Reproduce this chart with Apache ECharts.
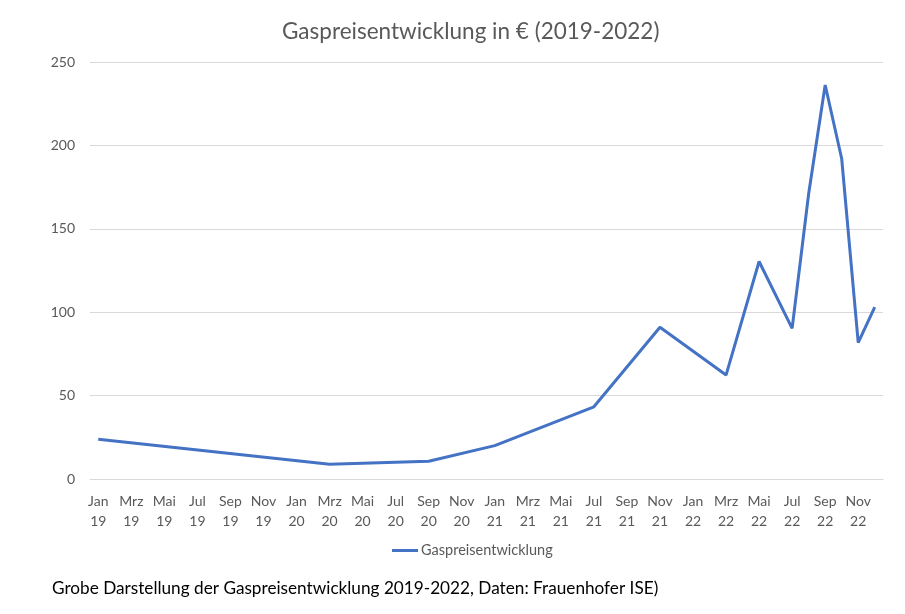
<!DOCTYPE html>
<html>
<head>
<meta charset="utf-8">
<script src="https://cdn.jsdelivr.net/npm/echarts@6/dist/echarts.min.js"></script>
<style>html,body{margin:0;padding:0;background:#fff}#c{width:905px;height:614px}</style>
</head>
<body>
<div id="c"></div>
<script>
const monthNames = ['Jan','Feb','Mrz','Apr','Mai','Jun','Jul','Aug','Sep','Okt','Nov','Dez'];
const years = ['19','20','21','22'];
const categories = [];
years.forEach(y => monthNames.forEach(m => categories.push(m + '\n' + y)));

// Observed values (only months where the line has a vertex); others null
const pointMonths = ['Jan\n19','Mrz\n20','Sep\n20','Jan\n21','Jul\n21','Nov\n21','Mrz\n22','Mai\n22','Jul\n22','Aug\n22','Sep\n22','Okt\n22','Nov\n22','Dez\n22'];
const pointValues = [23.8, 8.8, 10.6, 20, 43.3, 91, 62.3, 130.4, 90.3, 171, 236.2, 192, 81.7, 103];

const yTicks = [0, 50, 100, 150, 200, 250];

const seriesData = categories.map(c => {
  const i = pointMonths.indexOf(c);
  return i >= 0 ? pointValues[i] : null;
});

const chart = echarts.init(document.getElementById('c'));
chart.setOption({
  backgroundColor: '#fff',
  animation: false,
  title: {
    text: 'Gaspreisentwicklung in € (2019-2022)',
    left: 277,
    top: 15,
    textStyle: { fontFamily: 'Lato', fontSize: 22.5, fontWeight: 'normal', color: '#595959' }
  },
  legend: {
    bottom: 51,
    left: 387,
    itemWidth: 26,
    itemHeight: 3,
    itemGap: 0,
    icon: 'rect',
    textStyle: { fontFamily: 'Lato', fontSize: 14.5, color: '#595959', padding: [0,0,0,-2] },
    data: ['Gaspreisentwicklung']
  },
  graphic: [{
    type: 'text',
    left: 52,
    top: 580,
    style: {
      text: 'Grobe Darstellung der Gaspreisentwicklung 2019-2022, Daten: Frauenhofer ISE)',
      fontFamily: 'Lato',
      fontSize: 17.2,
      fill: '#000'
    }
  }],
  grid: { left: 90, right: 22, top: 62, bottom: 135, containLabel: false },
  xAxis: {
    type: 'category',
    data: categories,
    boundaryGap: true,
    axisLine: { show: true, lineStyle: { color: '#d9d9d9', width: 1 } },
    axisTick: { show: false },
    axisLabel: {
      interval: 1,
      fontFamily: 'Lato',
      fontSize: 14,
      color: '#595959',
      lineHeight: 20,
      margin: 12
    }
  },
  yAxis: {
    type: 'value',
    min: yTicks[0],
    max: yTicks[yTicks.length - 1],
    interval: 50,
    axisLine: { show: false },
    axisTick: { show: false },
    splitLine: { lineStyle: { color: '#d9d9d9', width: 1 } },
    axisLabel: { fontFamily: 'Lato', fontSize: 14, color: '#595959', margin: 15 }
  },
  series: [{
    name: 'Gaspreisentwicklung',
    type: 'line',
    data: seriesData,
    connectNulls: true,
    showSymbol: false,
    symbol: 'none',
    lineStyle: { color: '#4472C4', width: 3 },
    itemStyle: { color: '#4472C4' }
  }]
});
</script>
</body>
</html>
